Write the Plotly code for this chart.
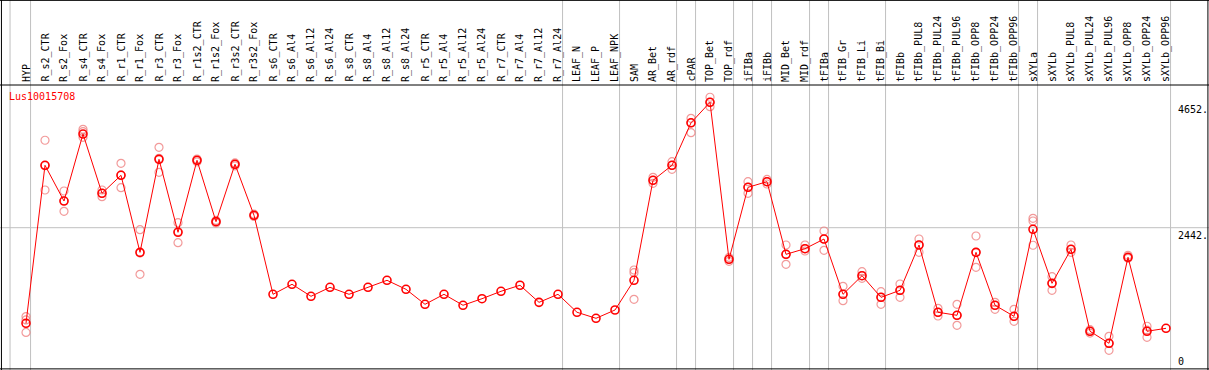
import plotly.graph_objects as go

categories = ["HYP", "R_s2_CTR", "R_s2_Fox", "R_s4_CTR", "R_s4_Fox", "R_r1_CTR", "R_r1_Fox",
              "R_r3_CTR", "R_r3_Fox", "R_r1s2_CTR", "R_r1s2_Fox", "R_r3s2_CTR", "R_r3s2_Fox",
              "R_s6_CTR", "R_s6_Al4", "R_s6_Al12", "R_s6_Al24", "R_s8_CTR", "R_s8_Al4", "R_s8_Al12",
              "R_s8_Al24", "R_r5_CTR", "R_r5_Al4", "R_r5_Al12", "R_r5_Al24", "R_r7_CTR", "R_r7_Al4",
              "R_r7_Al12", "R_r7_Al24", "LEAF_N", "LEAF_P", "LEAF_NPK", "SAM", "AR_Bet", "AR_rdf",
              "cPAR", "TOP_Bet", "TOP_rdf", "iFIBa", "iFIBb", "MID_Bet", "MID_rdf", "tFIBa",
              "tFIB_Gr", "tFIB_Li", "tFIB_Bi", "tFIBb", "tFIBb_PUL8", "tFIBb_PUL24", "tFIBb_PUL96",
              "tFIBb_OPP8", "tFIBb_OPP24", "tFIBb_OPP96", "sXYLa", "sXYLb", "sXYLb_PUL8",
              "sXYLb_PUL24", "sXYLb_PUL96", "sXYLb_OPP8", "sXYLb_OPP24", "sXYLb_OPP96"]

mean_values = [761, 3539, 2911, 4089, 3047, 3363, 2009, 3644, 2361, 3627, 2548, 3557, 2660,
               1271, 1447, 1236, 1394, 1271, 1394, 1517, 1359, 1095, 1271, 1078, 1194, 1324, 1430,
               1130, 1271, 955, 849, 995, 1517, 3275, 3539, 4286, 4647, 1886, 3152, 3251, 1974,
               2073, 2243, 1271, 1598, 1218, 1341, 2138, 955, 902, 2009, 1078, 884, 2414, 1464,
               2062, 621, 410, 1922, 621, 673]

rep1 = [880, 3979, 3087, 4172, 3105, 3574, 2407, 3855, 2530, 3650, 2570, 3580, 2680,
        None, None, None, None, None, None, None, None, None, None, None, None, None, None,
        None, None, None, None, None, 1698, 3328, 3602, 4365, 4735, 1920, 3251, 3290, 2138,
        2138, 2384, 1412, 1669, 1317, 1452, 2243, 1025, 1095, 2296, 1130, 1007, 2607, 1581,
        2138, 650, 533, 1957, 709, None]
rep2 = [820, 3533, 2916, 4130, 3047, 3370, 1998, 3661, 2375, 3627, 2548, 3557, 2660,
        None, None, None, None, None, None, None, None, None, None, None, None, None, None,
        None, None, None, None, None, 1651, 3275, 3539, 4286, 4647, 1886, 3152, 3251, 1974,
        2073, 2243, 1271, 1598, 1218, 1341, 2138, 955, 902, 2009, 1078, 884, 2560, 1464,
        2062, 621, 410, 1922, 640, None]
rep3 = [600, 3105, 2730, 4031, 2987, 3145, 1622, 3416, 2178, 3600, 2525, 3530, 2640,
        None, None, None, None, None, None, None, None, None, None, None, None, None, None,
        None, None, None, None, None, 1183, 3222, 3469, 4112, 4569, 1850, 3047, 3210, 1798,
        2032, 2045, 1159, 1552, 1095, 1218, 2009, 890, 726, 1746, 1007, 796, 2133, 1341,
        2009, 590, 287, 1904, 515, None]

# group separators: vertical lines drawn right after these category indices
separator_after = [0, 28, 31, 34, 35, 37, 38, 39, 41, 42, 45, 52, 53, 60]
y_tick_values = [4652, 2442, 0]
title_text = "Lus10015708"

W, H = 1209, 370
HEADER_PX = 85
x0_px, step_px = 26, 19
xr = [-x0_px / step_px, (W - x0_px) / step_px]
px_per_unit = 0.05688
zero_px = 366.6
yr = [(zero_px - H) / px_per_unit, (zero_px - HEADER_PX) / px_per_unit]
dom_top = 1 - HEADER_PX / H

idx = list(range(len(categories)))
FONT = "DejaVu Sans Mono"

fig = go.Figure()
rep_color = "rgba(238,120,120,0.75)"
for rep in (rep1, rep2, rep3):
    fig.add_trace(go.Scatter(x=idx, y=rep, mode="markers",
                             marker=dict(symbol="circle-open", size=8, color=rep_color,
                                         line=dict(width=1.2, color=rep_color)),
                             showlegend=False, hoverinfo="skip"))
fig.add_trace(go.Scatter(x=idx, y=mean_values, mode="lines+markers",
                         line=dict(color="#ff0000", width=1),
                         marker=dict(symbol="circle-open", size=8, color="#ff0000",
                                     line=dict(width=1.6, color="#ff0000")),
                         showlegend=False))

shapes = []
# horizontal grid line at middle tick
shapes.append(dict(type="line", xref="paper", yref="y", x0=0, x1=1, y0=y_tick_values[1], y1=y_tick_values[1],
                   line=dict(color="#c0c0c0", width=1), layer="below"))
# vertical separators
sep_positions = [-0.84] + [s + 0.24 for s in separator_after]
for sx in sep_positions:
    shapes.append(dict(type="line", xref="x", yref="paper", x0=sx, x1=sx, y0=0, y1=1,
                       line=dict(color="#c0c0c0", width=1), layer="below"))
# borders
for (a, b, c, d) in [(0, 1, 0.999, 0.999), (0, 1, dom_top, dom_top), (0, 1, 0.003, 0.003),
                     (0.0012, 0.0012, 0, 1), (0.9991, 0.9991, 0, 1)]:
    shapes.append(dict(type="line", xref="paper", yref="paper", x0=a, x1=b, y0=c, y1=d,
                       line=dict(color="black", width=1)))

annotations = []
for i, lab in enumerate(categories):
    annotations.append(dict(x=i, xref="x", y=1 - 83 / H, yref="paper", text=lab, textangle=-90,
                            showarrow=False, xanchor="center", yanchor="bottom",
                            font=dict(family=FONT, size=10, color="black"), borderpad=0))
annotations.append(dict(x=8 / W, xref="paper", y=1 - 96.5 / H, yref="paper", text=title_text,
                        showarrow=False, xanchor="left", yanchor="middle",
                        font=dict(family=FONT, size=10, color="#ff0000"), borderpad=0))
for v in y_tick_values:
    if v == 0:
        annotations.append(dict(x=1177 / W, xref="paper", y=v, yref="y", text=str(v), showarrow=False,
                                xanchor="left", yanchor="bottom", yshift=-1,
                                font=dict(family=FONT, size=10, color="black"), borderpad=0))
    else:
        annotations.append(dict(x=1177 / W, xref="paper", y=v, yref="y", text=f"{v}.", showarrow=False,
                                xanchor="left", yanchor="top", yshift=-1,
                                font=dict(family=FONT, size=10, color="black"), borderpad=0))

fig.update_layout(width=W, height=H, margin=dict(l=0, r=0, t=0, b=0),
                  paper_bgcolor="white", plot_bgcolor="white",
                  xaxis=dict(range=xr, visible=False, fixedrange=True),
                  yaxis=dict(range=yr, domain=[0, dom_top], visible=False, fixedrange=True),
                  shapes=shapes, annotations=annotations, showlegend=False)

fig.write_html("out.html", config={"displayModeBar": False},
               post_script="document.body.style.margin='0';document.body.style.overflow='hidden';")
